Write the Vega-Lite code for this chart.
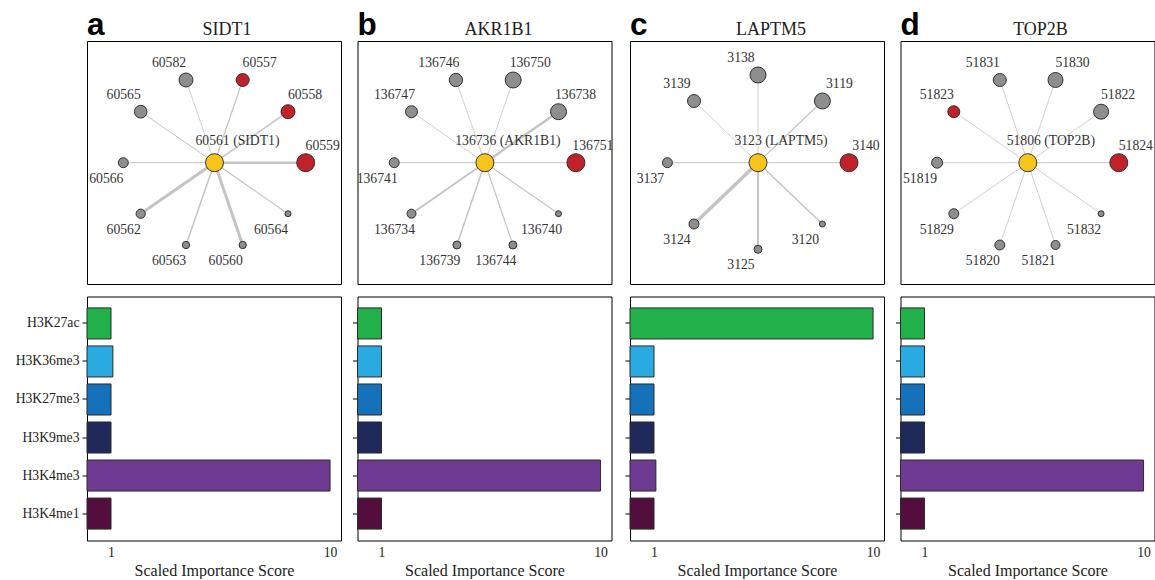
{
  "$schema": "https://vega.github.io/schema/vega-lite/v6.json",
  "padding": {"left": 14, "top": 9, "right": 0, "bottom": 0},
  "background": "white",
  "config": {
    "view": {"stroke": "#000", "strokeWidth": 1},
    "axis": {"labelFont": "Liberation Serif", "labelFontSize": 13.7, "labelColor": "#222", "titleFont": "Liberation Serif", "titleFontSize": 16, "titleFontWeight": "normal", "titleColor": "#222", "grid": false, "domain": false, "tickColor": "#000"},
    "text": {"font": "Liberation Serif", "fontSize": 13.7, "color": "#333", "align": "center", "baseline": "middle"}
  },
  "datasets": {
    "heads": [
      {"g": "SIDT1", "t": "a", "k": "letter", "x": 0, "y": -6.4},
      {"g": "SIDT1", "t": "SIDT1", "k": "gene", "x": 140, "y": -6.4},
      {"g": "AKR1B1", "t": "b", "k": "letter", "x": 0, "y": -6.4},
      {"g": "AKR1B1", "t": "AKR1B1", "k": "gene", "x": 141, "y": -6.4},
      {"g": "LAPTM5", "t": "c", "k": "letter", "x": 0, "y": -6.4},
      {"g": "LAPTM5", "t": "LAPTM5", "k": "gene", "x": 141, "y": -6.4},
      {"g": "TOP2B", "t": "d", "k": "letter", "x": 0, "y": -6.4},
      {"g": "TOP2B", "t": "TOP2B", "k": "gene", "x": 140, "y": -6.4}
    ],
    "nodes": [
      {"g": "SIDT1", "id": "60561 (SIDT1)", "x": 127.5, "y": 121.7, "d": 18, "kind": "center", "pos": "c"},
      {"g": "SIDT1", "id": "60582", "x": 99, "y": 39, "d": 14, "kind": "gray", "pos": "ul"},
      {"g": "SIDT1", "id": "60557", "x": 155.7, "y": 39, "d": 13, "kind": "red", "pos": "ur"},
      {"g": "SIDT1", "id": "60565", "x": 53.7, "y": 70.7, "d": 12.7, "kind": "gray", "pos": "ul"},
      {"g": "SIDT1", "id": "60558", "x": 201, "y": 70.7, "d": 14, "kind": "red", "pos": "ur"},
      {"g": "SIDT1", "id": "60566", "x": 36.3, "y": 121.7, "d": 10, "kind": "gray", "pos": "bl"},
      {"g": "SIDT1", "id": "60559", "x": 218.7, "y": 121.7, "d": 18, "kind": "red", "pos": "ur"},
      {"g": "SIDT1", "id": "60562", "x": 53.7, "y": 172.7, "d": 9.3, "kind": "gray", "pos": "bl"},
      {"g": "SIDT1", "id": "60564", "x": 201, "y": 172.7, "d": 6, "kind": "gray", "pos": "bl"},
      {"g": "SIDT1", "id": "60563", "x": 99, "y": 204, "d": 7.3, "kind": "gray", "pos": "bl"},
      {"g": "SIDT1", "id": "60560", "x": 155.7, "y": 204, "d": 7.3, "kind": "gray", "pos": "bl"},
      {"g": "AKR1B1", "id": "136736 (AKR1B1)", "x": 127.4, "y": 121.7, "d": 18, "kind": "center", "pos": "c"},
      {"g": "AKR1B1", "id": "136746", "x": 98.4, "y": 39, "d": 13.3, "kind": "gray", "pos": "ul"},
      {"g": "AKR1B1", "id": "136750", "x": 155.7, "y": 39, "d": 16, "kind": "gray", "pos": "ur"},
      {"g": "AKR1B1", "id": "136747", "x": 54, "y": 70.7, "d": 12, "kind": "gray", "pos": "ul"},
      {"g": "AKR1B1", "id": "136738", "x": 201, "y": 70.7, "d": 16, "kind": "gray", "pos": "ur"},
      {"g": "AKR1B1", "id": "136741", "x": 36.7, "y": 121.7, "d": 10, "kind": "gray", "pos": "bl"},
      {"g": "AKR1B1", "id": "136751", "x": 218.4, "y": 121.7, "d": 18, "kind": "red", "pos": "ur"},
      {"g": "AKR1B1", "id": "136734", "x": 54, "y": 172.7, "d": 9, "kind": "gray", "pos": "bl"},
      {"g": "AKR1B1", "id": "136740", "x": 201, "y": 172.7, "d": 6, "kind": "gray", "pos": "bl"},
      {"g": "AKR1B1", "id": "136739", "x": 99.4, "y": 204, "d": 8, "kind": "gray", "pos": "bl"},
      {"g": "AKR1B1", "id": "136744", "x": 155.4, "y": 204, "d": 8, "kind": "gray", "pos": "bl"},
      {"g": "LAPTM5", "id": "3123 (LAPTM5)", "x": 128, "y": 121.7, "d": 18, "kind": "center", "pos": "c"},
      {"g": "LAPTM5", "id": "3138", "x": 128, "y": 34, "d": 16, "kind": "gray", "pos": "ul"},
      {"g": "LAPTM5", "id": "3139", "x": 64, "y": 60, "d": 13, "kind": "gray", "pos": "ul"},
      {"g": "LAPTM5", "id": "3119", "x": 192.4, "y": 60, "d": 16, "kind": "gray", "pos": "ur"},
      {"g": "LAPTM5", "id": "3137", "x": 37.4, "y": 121.7, "d": 10, "kind": "gray", "pos": "bl"},
      {"g": "LAPTM5", "id": "3140", "x": 219, "y": 121.7, "d": 18, "kind": "red", "pos": "ur"},
      {"g": "LAPTM5", "id": "3124", "x": 64, "y": 183, "d": 10, "kind": "gray", "pos": "bl"},
      {"g": "LAPTM5", "id": "3120", "x": 192.4, "y": 183, "d": 6, "kind": "gray", "pos": "bl"},
      {"g": "LAPTM5", "id": "3125", "x": 128, "y": 208.3, "d": 8, "kind": "gray", "pos": "bl"},
      {"g": "TOP2B", "id": "51806 (TOP2B)", "x": 127.3, "y": 121.7, "d": 18, "kind": "center", "pos": "c"},
      {"g": "TOP2B", "id": "51831", "x": 99.3, "y": 39, "d": 13, "kind": "gray", "pos": "ul"},
      {"g": "TOP2B", "id": "51830", "x": 155, "y": 39, "d": 15, "kind": "gray", "pos": "ur"},
      {"g": "TOP2B", "id": "51823", "x": 53.3, "y": 70.7, "d": 12, "kind": "red", "pos": "ul"},
      {"g": "TOP2B", "id": "51822", "x": 200.6, "y": 70.7, "d": 15, "kind": "gray", "pos": "ur"},
      {"g": "TOP2B", "id": "51819", "x": 36.6, "y": 121.7, "d": 11, "kind": "gray", "pos": "bl"},
      {"g": "TOP2B", "id": "51824", "x": 218.3, "y": 121.7, "d": 18, "kind": "red", "pos": "ur"},
      {"g": "TOP2B", "id": "51829", "x": 53.3, "y": 172.7, "d": 10, "kind": "gray", "pos": "bl"},
      {"g": "TOP2B", "id": "51832", "x": 200.6, "y": 172.7, "d": 6, "kind": "gray", "pos": "bl"},
      {"g": "TOP2B", "id": "51820", "x": 99.3, "y": 204, "d": 10, "kind": "gray", "pos": "bl"},
      {"g": "TOP2B", "id": "51821", "x": 155, "y": 204, "d": 9, "kind": "gray", "pos": "bl"}
    ],
    "edges": [
      {"g": "SIDT1", "x": 99, "y": 39, "x2": 127.5, "y2": 121.7, "w": 0.8},
      {"g": "SIDT1", "x": 155.7, "y": 39, "x2": 127.5, "y2": 121.7, "w": 1.2},
      {"g": "SIDT1", "x": 53.7, "y": 70.7, "x2": 127.5, "y2": 121.7, "w": 1},
      {"g": "SIDT1", "x": 201, "y": 70.7, "x2": 127.5, "y2": 121.7, "w": 1.5},
      {"g": "SIDT1", "x": 36.3, "y": 121.7, "x2": 127.5, "y2": 121.7, "w": 1},
      {"g": "SIDT1", "x": 218.7, "y": 121.7, "x2": 127.5, "y2": 121.7, "w": 2.5},
      {"g": "SIDT1", "x": 53.7, "y": 172.7, "x2": 127.5, "y2": 121.7, "w": 3},
      {"g": "SIDT1", "x": 201, "y": 172.7, "x2": 127.5, "y2": 121.7, "w": 1.2},
      {"g": "SIDT1", "x": 99, "y": 204, "x2": 127.5, "y2": 121.7, "w": 1.5},
      {"g": "SIDT1", "x": 155.7, "y": 204, "x2": 127.5, "y2": 121.7, "w": 3},
      {"g": "AKR1B1", "x": 98.4, "y": 39, "x2": 127.4, "y2": 121.7, "w": 0.8},
      {"g": "AKR1B1", "x": 155.7, "y": 39, "x2": 127.4, "y2": 121.7, "w": 0.8},
      {"g": "AKR1B1", "x": 54, "y": 70.7, "x2": 127.4, "y2": 121.7, "w": 0.8},
      {"g": "AKR1B1", "x": 201, "y": 70.7, "x2": 127.4, "y2": 121.7, "w": 2.5},
      {"g": "AKR1B1", "x": 36.7, "y": 121.7, "x2": 127.4, "y2": 121.7, "w": 1},
      {"g": "AKR1B1", "x": 218.4, "y": 121.7, "x2": 127.4, "y2": 121.7, "w": 1},
      {"g": "AKR1B1", "x": 54, "y": 172.7, "x2": 127.4, "y2": 121.7, "w": 2},
      {"g": "AKR1B1", "x": 201, "y": 172.7, "x2": 127.4, "y2": 121.7, "w": 1.2},
      {"g": "AKR1B1", "x": 99.4, "y": 204, "x2": 127.4, "y2": 121.7, "w": 1.5},
      {"g": "AKR1B1", "x": 155.4, "y": 204, "x2": 127.4, "y2": 121.7, "w": 1.2},
      {"g": "LAPTM5", "x": 128, "y": 34, "x2": 128, "y2": 121.7, "w": 0.8},
      {"g": "LAPTM5", "x": 64, "y": 60, "x2": 128, "y2": 121.7, "w": 0.8},
      {"g": "LAPTM5", "x": 192.4, "y": 60, "x2": 128, "y2": 121.7, "w": 1.2},
      {"g": "LAPTM5", "x": 37.4, "y": 121.7, "x2": 128, "y2": 121.7, "w": 1},
      {"g": "LAPTM5", "x": 219, "y": 121.7, "x2": 128, "y2": 121.7, "w": 1},
      {"g": "LAPTM5", "x": 64, "y": 183, "x2": 128, "y2": 121.7, "w": 3.5},
      {"g": "LAPTM5", "x": 192.4, "y": 183, "x2": 128, "y2": 121.7, "w": 1.5},
      {"g": "LAPTM5", "x": 128, "y": 208.3, "x2": 128, "y2": 121.7, "w": 2},
      {"g": "TOP2B", "x": 99.3, "y": 39, "x2": 127.3, "y2": 121.7, "w": 0.8},
      {"g": "TOP2B", "x": 155, "y": 39, "x2": 127.3, "y2": 121.7, "w": 0.8},
      {"g": "TOP2B", "x": 53.3, "y": 70.7, "x2": 127.3, "y2": 121.7, "w": 0.8},
      {"g": "TOP2B", "x": 200.6, "y": 70.7, "x2": 127.3, "y2": 121.7, "w": 0.8},
      {"g": "TOP2B", "x": 36.6, "y": 121.7, "x2": 127.3, "y2": 121.7, "w": 0.8},
      {"g": "TOP2B", "x": 218.3, "y": 121.7, "x2": 127.3, "y2": 121.7, "w": 1},
      {"g": "TOP2B", "x": 53.3, "y": 172.7, "x2": 127.3, "y2": 121.7, "w": 0.8},
      {"g": "TOP2B", "x": 200.6, "y": 172.7, "x2": 127.3, "y2": 121.7, "w": 0.8},
      {"g": "TOP2B", "x": 99.3, "y": 204, "x2": 127.3, "y2": 121.7, "w": 0.8},
      {"g": "TOP2B", "x": 155, "y": 204, "x2": 127.3, "y2": 121.7, "w": 0.8}
    ],
    "bars": [
      {"g": "SIDT1", "mark": "H3K27ac", "v": 1.0},
      {"g": "SIDT1", "mark": "H3K36me3", "v": 1.02},
      {"g": "SIDT1", "mark": "H3K27me3", "v": 1.0},
      {"g": "SIDT1", "mark": "H3K9me3", "v": 1.0},
      {"g": "SIDT1", "mark": "H3K4me3", "v": 10.0},
      {"g": "SIDT1", "mark": "H3K4me1", "v": 1.0},
      {"g": "AKR1B1", "mark": "H3K27ac", "v": 1.0},
      {"g": "AKR1B1", "mark": "H3K36me3", "v": 1.0},
      {"g": "AKR1B1", "mark": "H3K27me3", "v": 1.0},
      {"g": "AKR1B1", "mark": "H3K9me3", "v": 1.0},
      {"g": "AKR1B1", "mark": "H3K4me3", "v": 10.0},
      {"g": "AKR1B1", "mark": "H3K4me1", "v": 1.0},
      {"g": "LAPTM5", "mark": "H3K27ac", "v": 10.0},
      {"g": "LAPTM5", "mark": "H3K36me3", "v": 1.0},
      {"g": "LAPTM5", "mark": "H3K27me3", "v": 1.0},
      {"g": "LAPTM5", "mark": "H3K9me3", "v": 1.0},
      {"g": "LAPTM5", "mark": "H3K4me3", "v": 1.02},
      {"g": "LAPTM5", "mark": "H3K4me1", "v": 1.0},
      {"g": "TOP2B", "mark": "H3K27ac", "v": 1.0},
      {"g": "TOP2B", "mark": "H3K36me3", "v": 1.0},
      {"g": "TOP2B", "mark": "H3K27me3", "v": 1.0},
      {"g": "TOP2B", "mark": "H3K9me3", "v": 1.0},
      {"g": "TOP2B", "mark": "H3K4me3", "v": 10.0},
      {"g": "TOP2B", "mark": "H3K4me1", "v": 1.0}
    ]
  },
  "spacing": 9.5,
  "resolve": {"scale": {"color": "independent", "fill": "independent"}},
  "hconcat": [
    {
      "spacing": 10.5,
      "resolve": {"scale": {"color": "independent", "fill": "independent"}},
      "vconcat": [
        {
          "width": 254, "height": 243,
          "encoding": {
            "x": {"field": "x", "type": "quantitative", "scale": {"domain": [0, 254]}, "axis": null},
            "y": {"field": "y", "type": "quantitative", "scale": {"domain": [0, 243], "reverse": true}, "axis": null}
          },
          "layer": [
            {"data": {"name": "edges"}, "transform": [{"filter": "datum.g === 'SIDT1'"}], "mark": {"type": "rule", "color": "#c4c4c4"}, "encoding": {"x2": {"field": "x2"}, "y2": {"field": "y2"}, "strokeWidth": {"field": "w", "type": "quantitative", "scale": {"domain": [0, 4], "range": [0, 4]}, "legend": null}}},
            {"data": {"name": "nodes"}, "transform": [{"filter": "datum.g === 'SIDT1'"}], "mark": {"type": "point", "filled": true, "stroke": "#222", "strokeWidth": 0.9, "opacity": 1}, "encoding": {"size": {"field": "d", "type": "quantitative", "scale": {"type": "pow", "exponent": 2, "domain": [0, 20], "range": [0, 400]}, "legend": null}, "color": {"field": "kind", "type": "nominal", "scale": {"domain": ["center", "red", "gray"], "range": ["#f7c41c", "#c1212a", "#8e8e8e"]}, "legend": null}}},
            {"data": {"name": "nodes"}, "transform": [{"filter": "datum.g === 'SIDT1' && datum.pos === 'ul'"}], "mark": {"type": "text", "dx": -17, "dy": -17}, "encoding": {"text": {"field": "id"}}},
            {"data": {"name": "nodes"}, "transform": [{"filter": "datum.g === 'SIDT1' && datum.pos === 'ur'"}], "mark": {"type": "text", "dx": 17, "dy": -17}, "encoding": {"text": {"field": "id"}}},
            {"data": {"name": "nodes"}, "transform": [{"filter": "datum.g === 'SIDT1' && datum.pos === 'bl'"}], "mark": {"type": "text", "dx": -17, "dy": 16}, "encoding": {"text": {"field": "id"}}},
            {"data": {"name": "nodes"}, "transform": [{"filter": "datum.g === 'SIDT1' && datum.pos === 'c'"}], "mark": {"type": "text", "dx": 23, "dy": -22}, "encoding": {"text": {"field": "id"}}},
            {"data": {"name": "heads"}, "transform": [{"filter": "datum.g === 'SIDT1' && datum.k === 'letter'"}], "mark": {"type": "text", "font": "Liberation Sans", "fontSize": 31.5, "fontWeight": "bold", "color": "#000", "align": "left", "baseline": "alphabetic"}, "encoding": {"text": {"field": "t"}}},
            {"data": {"name": "heads"}, "transform": [{"filter": "datum.g === 'SIDT1' && datum.k === 'gene'"}], "mark": {"type": "text", "font": "Liberation Serif", "fontSize": 18, "color": "#222", "align": "center", "baseline": "alphabetic"}, "encoding": {"text": {"field": "t"}}}
          ]
        },
        {
          "width": 254, "height": 244,
          "data": {"name": "bars"},
          "transform": [{"filter": "datum.g === 'SIDT1'"}],
          "mark": {"type": "bar", "stroke": "#2b2b2b", "strokeWidth": 1},
          "encoding": {
            "y": {"field": "mark", "type": "nominal", "sort": ["H3K27ac", "H3K36me3", "H3K27me3", "H3K9me3", "H3K4me3", "H3K4me1"], "scale": {"paddingInner": 0.184, "paddingOuter": 0.3}, "axis": {"title": null, "labels": true, "ticks": true, "tickSize": 5, "labelPadding": 3}},
            "x": {"field": "v", "type": "quantitative", "scale": {"type": "log", "domain": [0.777, 11.22], "nice": false}, "axis": {"values": [1, 10], "format": "d", "ticks": false, "labelPadding": 5, "title": "Scaled Importance Score", "titlePadding": 3}},
            "x2": {"datum": 0.777},
            "fill": {"field": "mark", "type": "nominal", "scale": {"domain": ["H3K27ac", "H3K36me3", "H3K27me3", "H3K9me3", "H3K4me3", "H3K4me1"], "range": ["#22b04b", "#29aae1", "#1572ba", "#1f2a5b", "#6e3a92", "#540e3e"]}, "legend": null}
          }
        }
      ]
    },
    {
      "spacing": 10.5,
      "resolve": {"scale": {"color": "independent", "fill": "independent"}},
      "vconcat": [
        {
          "width": 254, "height": 243,
          "encoding": {
            "x": {"field": "x", "type": "quantitative", "scale": {"domain": [0, 254]}, "axis": null},
            "y": {"field": "y", "type": "quantitative", "scale": {"domain": [0, 243], "reverse": true}, "axis": null}
          },
          "layer": [
            {"data": {"name": "edges"}, "transform": [{"filter": "datum.g === 'AKR1B1'"}], "mark": {"type": "rule", "color": "#c4c4c4"}, "encoding": {"x2": {"field": "x2"}, "y2": {"field": "y2"}, "strokeWidth": {"field": "w", "type": "quantitative", "scale": {"domain": [0, 4], "range": [0, 4]}, "legend": null}}},
            {"data": {"name": "nodes"}, "transform": [{"filter": "datum.g === 'AKR1B1'"}], "mark": {"type": "point", "filled": true, "stroke": "#222", "strokeWidth": 0.9, "opacity": 1}, "encoding": {"size": {"field": "d", "type": "quantitative", "scale": {"type": "pow", "exponent": 2, "domain": [0, 20], "range": [0, 400]}, "legend": null}, "color": {"field": "kind", "type": "nominal", "scale": {"domain": ["center", "red", "gray"], "range": ["#f7c41c", "#c1212a", "#8e8e8e"]}, "legend": null}}},
            {"data": {"name": "nodes"}, "transform": [{"filter": "datum.g === 'AKR1B1' && datum.pos === 'ul'"}], "mark": {"type": "text", "dx": -17, "dy": -17}, "encoding": {"text": {"field": "id"}}},
            {"data": {"name": "nodes"}, "transform": [{"filter": "datum.g === 'AKR1B1' && datum.pos === 'ur'"}], "mark": {"type": "text", "dx": 17, "dy": -17}, "encoding": {"text": {"field": "id"}}},
            {"data": {"name": "nodes"}, "transform": [{"filter": "datum.g === 'AKR1B1' && datum.pos === 'bl'"}], "mark": {"type": "text", "dx": -17, "dy": 16}, "encoding": {"text": {"field": "id"}}},
            {"data": {"name": "nodes"}, "transform": [{"filter": "datum.g === 'AKR1B1' && datum.pos === 'c'"}], "mark": {"type": "text", "dx": 23, "dy": -22}, "encoding": {"text": {"field": "id"}}},
            {"data": {"name": "heads"}, "transform": [{"filter": "datum.g === 'AKR1B1' && datum.k === 'letter'"}], "mark": {"type": "text", "font": "Liberation Sans", "fontSize": 31.5, "fontWeight": "bold", "color": "#000", "align": "left", "baseline": "alphabetic"}, "encoding": {"text": {"field": "t"}}},
            {"data": {"name": "heads"}, "transform": [{"filter": "datum.g === 'AKR1B1' && datum.k === 'gene'"}], "mark": {"type": "text", "font": "Liberation Serif", "fontSize": 18, "color": "#222", "align": "center", "baseline": "alphabetic"}, "encoding": {"text": {"field": "t"}}}
          ]
        },
        {
          "width": 254, "height": 244,
          "data": {"name": "bars"},
          "transform": [{"filter": "datum.g === 'AKR1B1'"}],
          "mark": {"type": "bar", "stroke": "#2b2b2b", "strokeWidth": 1},
          "encoding": {
            "y": {"field": "mark", "type": "nominal", "sort": ["H3K27ac", "H3K36me3", "H3K27me3", "H3K9me3", "H3K4me3", "H3K4me1"], "scale": {"paddingInner": 0.184, "paddingOuter": 0.3}, "axis": {"title": null, "labels": false, "ticks": true, "tickSize": 5}},
            "x": {"field": "v", "type": "quantitative", "scale": {"type": "log", "domain": [0.777, 11.22], "nice": false}, "axis": {"values": [1, 10], "format": "d", "ticks": false, "labelPadding": 5, "title": "Scaled Importance Score", "titlePadding": 3}},
            "x2": {"datum": 0.777},
            "fill": {"field": "mark", "type": "nominal", "scale": {"domain": ["H3K27ac", "H3K36me3", "H3K27me3", "H3K9me3", "H3K4me3", "H3K4me1"], "range": ["#22b04b", "#29aae1", "#1572ba", "#1f2a5b", "#6e3a92", "#540e3e"]}, "legend": null}
          }
        }
      ]
    },
    {
      "spacing": 10.5,
      "resolve": {"scale": {"color": "independent", "fill": "independent"}},
      "vconcat": [
        {
          "width": 254, "height": 243,
          "encoding": {
            "x": {"field": "x", "type": "quantitative", "scale": {"domain": [0, 254]}, "axis": null},
            "y": {"field": "y", "type": "quantitative", "scale": {"domain": [0, 243], "reverse": true}, "axis": null}
          },
          "layer": [
            {"data": {"name": "edges"}, "transform": [{"filter": "datum.g === 'LAPTM5'"}], "mark": {"type": "rule", "color": "#c4c4c4"}, "encoding": {"x2": {"field": "x2"}, "y2": {"field": "y2"}, "strokeWidth": {"field": "w", "type": "quantitative", "scale": {"domain": [0, 4], "range": [0, 4]}, "legend": null}}},
            {"data": {"name": "nodes"}, "transform": [{"filter": "datum.g === 'LAPTM5'"}], "mark": {"type": "point", "filled": true, "stroke": "#222", "strokeWidth": 0.9, "opacity": 1}, "encoding": {"size": {"field": "d", "type": "quantitative", "scale": {"type": "pow", "exponent": 2, "domain": [0, 20], "range": [0, 400]}, "legend": null}, "color": {"field": "kind", "type": "nominal", "scale": {"domain": ["center", "red", "gray"], "range": ["#f7c41c", "#c1212a", "#8e8e8e"]}, "legend": null}}},
            {"data": {"name": "nodes"}, "transform": [{"filter": "datum.g === 'LAPTM5' && datum.pos === 'ul'"}], "mark": {"type": "text", "dx": -17, "dy": -17}, "encoding": {"text": {"field": "id"}}},
            {"data": {"name": "nodes"}, "transform": [{"filter": "datum.g === 'LAPTM5' && datum.pos === 'ur'"}], "mark": {"type": "text", "dx": 17, "dy": -17}, "encoding": {"text": {"field": "id"}}},
            {"data": {"name": "nodes"}, "transform": [{"filter": "datum.g === 'LAPTM5' && datum.pos === 'bl'"}], "mark": {"type": "text", "dx": -17, "dy": 16}, "encoding": {"text": {"field": "id"}}},
            {"data": {"name": "nodes"}, "transform": [{"filter": "datum.g === 'LAPTM5' && datum.pos === 'c'"}], "mark": {"type": "text", "dx": 23, "dy": -22}, "encoding": {"text": {"field": "id"}}},
            {"data": {"name": "heads"}, "transform": [{"filter": "datum.g === 'LAPTM5' && datum.k === 'letter'"}], "mark": {"type": "text", "font": "Liberation Sans", "fontSize": 31.5, "fontWeight": "bold", "color": "#000", "align": "left", "baseline": "alphabetic"}, "encoding": {"text": {"field": "t"}}},
            {"data": {"name": "heads"}, "transform": [{"filter": "datum.g === 'LAPTM5' && datum.k === 'gene'"}], "mark": {"type": "text", "font": "Liberation Serif", "fontSize": 18, "color": "#222", "align": "center", "baseline": "alphabetic"}, "encoding": {"text": {"field": "t"}}}
          ]
        },
        {
          "width": 254, "height": 244,
          "data": {"name": "bars"},
          "transform": [{"filter": "datum.g === 'LAPTM5'"}],
          "mark": {"type": "bar", "stroke": "#2b2b2b", "strokeWidth": 1},
          "encoding": {
            "y": {"field": "mark", "type": "nominal", "sort": ["H3K27ac", "H3K36me3", "H3K27me3", "H3K9me3", "H3K4me3", "H3K4me1"], "scale": {"paddingInner": 0.184, "paddingOuter": 0.3}, "axis": {"title": null, "labels": false, "ticks": true, "tickSize": 5}},
            "x": {"field": "v", "type": "quantitative", "scale": {"type": "log", "domain": [0.777, 11.22], "nice": false}, "axis": {"values": [1, 10], "format": "d", "ticks": false, "labelPadding": 5, "title": "Scaled Importance Score", "titlePadding": 3}},
            "x2": {"datum": 0.777},
            "fill": {"field": "mark", "type": "nominal", "scale": {"domain": ["H3K27ac", "H3K36me3", "H3K27me3", "H3K9me3", "H3K4me3", "H3K4me1"], "range": ["#22b04b", "#29aae1", "#1572ba", "#1f2a5b", "#6e3a92", "#540e3e"]}, "legend": null}
          }
        }
      ]
    },
    {
      "spacing": 10.5,
      "resolve": {"scale": {"color": "independent", "fill": "independent"}},
      "vconcat": [
        {
          "width": 254, "height": 243,
          "encoding": {
            "x": {"field": "x", "type": "quantitative", "scale": {"domain": [0, 254]}, "axis": null},
            "y": {"field": "y", "type": "quantitative", "scale": {"domain": [0, 243], "reverse": true}, "axis": null}
          },
          "layer": [
            {"data": {"name": "edges"}, "transform": [{"filter": "datum.g === 'TOP2B'"}], "mark": {"type": "rule", "color": "#c4c4c4"}, "encoding": {"x2": {"field": "x2"}, "y2": {"field": "y2"}, "strokeWidth": {"field": "w", "type": "quantitative", "scale": {"domain": [0, 4], "range": [0, 4]}, "legend": null}}},
            {"data": {"name": "nodes"}, "transform": [{"filter": "datum.g === 'TOP2B'"}], "mark": {"type": "point", "filled": true, "stroke": "#222", "strokeWidth": 0.9, "opacity": 1}, "encoding": {"size": {"field": "d", "type": "quantitative", "scale": {"type": "pow", "exponent": 2, "domain": [0, 20], "range": [0, 400]}, "legend": null}, "color": {"field": "kind", "type": "nominal", "scale": {"domain": ["center", "red", "gray"], "range": ["#f7c41c", "#c1212a", "#8e8e8e"]}, "legend": null}}},
            {"data": {"name": "nodes"}, "transform": [{"filter": "datum.g === 'TOP2B' && datum.pos === 'ul'"}], "mark": {"type": "text", "dx": -17, "dy": -17}, "encoding": {"text": {"field": "id"}}},
            {"data": {"name": "nodes"}, "transform": [{"filter": "datum.g === 'TOP2B' && datum.pos === 'ur'"}], "mark": {"type": "text", "dx": 17, "dy": -17}, "encoding": {"text": {"field": "id"}}},
            {"data": {"name": "nodes"}, "transform": [{"filter": "datum.g === 'TOP2B' && datum.pos === 'bl'"}], "mark": {"type": "text", "dx": -17, "dy": 16}, "encoding": {"text": {"field": "id"}}},
            {"data": {"name": "nodes"}, "transform": [{"filter": "datum.g === 'TOP2B' && datum.pos === 'c'"}], "mark": {"type": "text", "dx": 23, "dy": -22}, "encoding": {"text": {"field": "id"}}},
            {"data": {"name": "heads"}, "transform": [{"filter": "datum.g === 'TOP2B' && datum.k === 'letter'"}], "mark": {"type": "text", "font": "Liberation Sans", "fontSize": 31.5, "fontWeight": "bold", "color": "#000", "align": "left", "baseline": "alphabetic"}, "encoding": {"text": {"field": "t"}}},
            {"data": {"name": "heads"}, "transform": [{"filter": "datum.g === 'TOP2B' && datum.k === 'gene'"}], "mark": {"type": "text", "font": "Liberation Serif", "fontSize": 18, "color": "#222", "align": "center", "baseline": "alphabetic"}, "encoding": {"text": {"field": "t"}}}
          ]
        },
        {
          "width": 254, "height": 244,
          "data": {"name": "bars"},
          "transform": [{"filter": "datum.g === 'TOP2B'"}],
          "mark": {"type": "bar", "stroke": "#2b2b2b", "strokeWidth": 1},
          "encoding": {
            "y": {"field": "mark", "type": "nominal", "sort": ["H3K27ac", "H3K36me3", "H3K27me3", "H3K9me3", "H3K4me3", "H3K4me1"], "scale": {"paddingInner": 0.184, "paddingOuter": 0.3}, "axis": {"title": null, "labels": false, "ticks": true, "tickSize": 5}},
            "x": {"field": "v", "type": "quantitative", "scale": {"type": "log", "domain": [0.777, 11.22], "nice": false}, "axis": {"values": [1, 10], "format": "d", "ticks": false, "labelPadding": 5, "title": "Scaled Importance Score", "titlePadding": 3}},
            "x2": {"datum": 0.777},
            "fill": {"field": "mark", "type": "nominal", "scale": {"domain": ["H3K27ac", "H3K36me3", "H3K27me3", "H3K9me3", "H3K4me3", "H3K4me1"], "range": ["#22b04b", "#29aae1", "#1572ba", "#1f2a5b", "#6e3a92", "#540e3e"]}, "legend": null}
          }
        }
      ]
    }
  ]
}
